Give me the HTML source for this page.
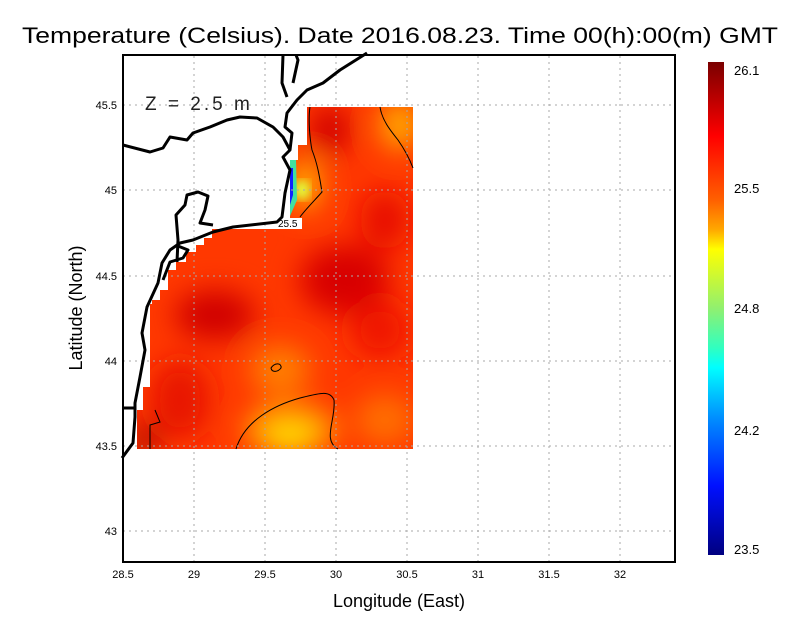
<!DOCTYPE html>
<html><head><style>
body{margin:0;background:#fff;}
svg text{font-family:"Liberation Sans","DejaVu Sans",sans-serif;}
</style></head><body>
<svg width="800" height="618" viewBox="0 0 800 618" xmlns="http://www.w3.org/2000/svg">
<defs>
<clipPath id="dm"><polygon points="307,107 413,107 413,449 137,449 137,410 143,410 143,387 150,387 150,304 152,304 152,300 160,300 160,290 168,290 168,270 176,270 176,262 186,262 186,252 196,252 196,245 204,245 204,238 212,238 212,229 290,229 290,160 298,160 298,145 307,145"/></clipPath>
<filter id="bl" x="-50%" y="-50%" width="200%" height="200%"><feGaussianBlur stdDeviation="14"/></filter>
<filter id="bl2"><feGaussianBlur stdDeviation="5"/></filter>
<linearGradient id="cb" x1="0" y1="0" x2="0" y2="1">
<stop offset="0" stop-color="#7a0000"/><stop offset="0.08" stop-color="#c00000"/><stop offset="0.15" stop-color="#ff0000"/>
<stop offset="0.28" stop-color="#ff6000"/><stop offset="0.34" stop-color="#ffa800"/><stop offset="0.38" stop-color="#ffff00"/>
<stop offset="0.5" stop-color="#90f070"/><stop offset="0.58" stop-color="#30ffc0"/><stop offset="0.62" stop-color="#00ffff"/>
<stop offset="0.72" stop-color="#0090ff"/><stop offset="0.86" stop-color="#0010ff"/><stop offset="1" stop-color="#000080"/>
</linearGradient>
</defs>
<text x="22" y="43" font-size="22" textLength="756" lengthAdjust="spacingAndGlyphs">Temperature (Celsius). Date 2016.08.23. Time 00(h):00(m)  GMT</text>
<g clip-path="url(#dm)">
<rect x="120" y="100" width="300" height="360" fill="#ff3800"/>
<g filter="url(#bl)">
<ellipse cx="215" cy="315" rx="40" ry="25" fill="#d00000"/>
<ellipse cx="345" cy="280" rx="45" ry="35" fill="#d80000"/>
<ellipse cx="330" cy="130" rx="20" ry="25" fill="#d00000"/>
<ellipse cx="385" cy="220" rx="25" ry="30" fill="#e80800"/>
<ellipse cx="380" cy="330" rx="30" ry="30" fill="#f01800"/>
<ellipse cx="180" cy="400" rx="30" ry="40" fill="#e81800"/>
<ellipse cx="290" cy="430" rx="45" ry="25" fill="#ffb000"/>
<ellipse cx="290" cy="440" rx="18" ry="12" fill="#ffee00"/>
<ellipse cx="400" cy="125" rx="20" ry="25" fill="#ffb000"/>
<ellipse cx="280" cy="370" rx="30" ry="25" fill="#ff8000"/>
<ellipse cx="385" cy="420" rx="30" ry="25" fill="#ff7000"/>
<ellipse cx="305" cy="185" rx="15" ry="25" fill="#ffc000"/>
<ellipse cx="145" cy="440" rx="12" ry="15" fill="#900000"/>
</g>
<ellipse cx="302" cy="190" rx="8" ry="10" fill="#e0ff40" filter="url(#bl2)"/>
<polygon points="290,160 296,160 297,200 290,216" fill="#40e0a0"/>
<polygon points="290,168 293,168 293,195 290,205" fill="#1020ff"/>
</g>
<g fill="none" stroke="#000" stroke-width="1">
<path d="M236,449 C245,420 275,405 300,398 C320,393 330,390 334,400 C336,420 322,440 338,449"/>
<path d="M310,107 C308,120 310,140 312,150 C318,165 320,180 322,192 C315,200 305,210 300,217"/>
<path d="M380,107 C382,120 390,130 398,140 C405,150 410,160 413,168"/>
<path d="M271,368 C275,362 282,363 281,368 C278,372 272,373 271,368 Z"/>
<path d="M150,449 L150,425 L160,422 L155,410"/>
</g>
<rect x="276" y="218" width="26" height="11" fill="#fff"/>
<text x="278" y="227" font-size="10">25.5</text>
<g stroke="#aaa" stroke-width="1" stroke-dasharray="2,4">
<line x1="194" y1="56" x2="194" y2="562"/><line x1="265" y1="56" x2="265" y2="562"/><line x1="336" y1="56" x2="336" y2="562"/><line x1="407" y1="56" x2="407" y2="562"/><line x1="478" y1="56" x2="478" y2="562"/><line x1="549" y1="56" x2="549" y2="562"/><line x1="620" y1="56" x2="620" y2="562"/>
<line x1="123" y1="105" x2="675" y2="105"/><line x1="123" y1="190" x2="675" y2="190"/><line x1="123" y1="276" x2="675" y2="276"/><line x1="123" y1="361" x2="675" y2="361"/><line x1="123" y1="446" x2="675" y2="446"/><line x1="123" y1="531" x2="675" y2="531"/>
</g>
<g fill="none" stroke="#000" stroke-width="3" stroke-linejoin="round">
<path d="M122,458 L133,443 L135,417 L135,403 L140,377 L145,350 L142,333 L147,307 L158,283 L162,263 L170,250 L180,243 L193,240 L213,232 L233,227 L277,222 L282,217 L285,193 L290,170 L283,157 L290,150 L292,133 L285,127 L287,113 L297,100 L307,90 L323,83 L340,70 L367,53"/>
<path d="M123,145 L150,152 L163,148 L170,137 L187,140 L193,133 L210,127 L227,120 L240,117 L257,118 L273,127 L283,137 L290,150"/>
<path d="M283,55 L282,83 L287,97 M293,83 L298,60 L296,55"/>
<path d="M177,262 L178,240 L176,215 L185,205 L187,195 L198,192 L208,196 L205,210 L200,223 L213,225 M163,280 L170,262 L183,258 L188,250 L178,246"/>
<path d="M123,408 L135,408"/>
</g>
<rect x="123" y="55" width="552" height="507" fill="none" stroke="#000" stroke-width="2"/>
<text x="145" y="110" font-size="19" letter-spacing="3" fill="#222">Z = 2.5 m</text>
<g font-size="11" text-anchor="middle">
<text x="123" y="578">28.5</text><text x="194" y="578">29</text><text x="265" y="578">29.5</text><text x="336" y="578">30</text><text x="407" y="578">30.5</text><text x="478" y="578">31</text><text x="549" y="578">31.5</text><text x="620" y="578">32</text>
</g>
<g font-size="11" text-anchor="end">
<text x="117" y="109">45.5</text><text x="117" y="194">45</text><text x="117" y="280">44.5</text><text x="117" y="365">44</text><text x="117" y="450">43.5</text><text x="117" y="535">43</text>
</g>
<text x="399" y="607" font-size="18" text-anchor="middle">Longitude (East)</text>
<text transform="translate(82,308) rotate(-90)" font-size="18" text-anchor="middle">Latitude (North)</text>
<rect x="708" y="62" width="16" height="493" fill="url(#cb)"/>
<g font-size="13">
<text x="734" y="75">26.1</text><text x="734" y="193">25.5</text><text x="734" y="313">24.8</text><text x="734" y="435">24.2</text><text x="734" y="554">23.5</text>
</g>
</svg>
</body></html>
